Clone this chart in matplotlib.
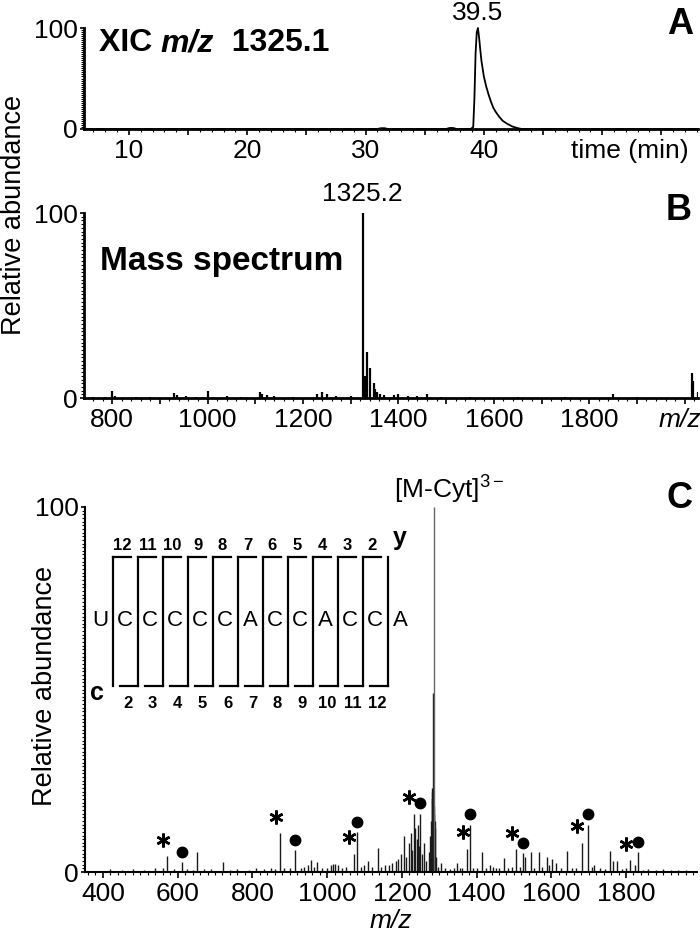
import matplotlib
matplotlib.use('Agg')
import matplotlib.pyplot as plt
from matplotlib.ticker import MultipleLocator, FixedLocator, FuncFormatter

plt.rcParams['font.family'] = ['Liberation Sans', 'DejaVu Sans']
plt.rcParams['mathtext.fontset'] = 'custom'
plt.rcParams['mathtext.rm'] = 'Liberation Sans'
plt.rcParams['mathtext.it'] = 'Liberation Sans:italic'
plt.rcParams['mathtext.bf'] = 'Liberation Sans:bold'

# --- panel A: extracted ion chromatogram of m/z 1325.1
xic_time = [6.2, 31.0, 31.3, 31.6, 31.9, 36.8, 37.1, 37.4, 37.7, 38.9, 39.1, 39.2,
            39.3, 39.4, 39.5, 39.6, 39.7, 39.8, 40.0, 40.2, 40.4, 40.6, 40.8, 41.0,
            41.3, 41.6, 42.0, 42.4, 42.8, 43.2, 58.1]
xic_int = [0, 0, 0.8, 0.8, 0, 0, 1.0, 1.0, 0, 0, 2, 30,
           75, 96, 100, 90, 78, 67, 52, 42, 34, 27, 21, 17,
           12, 8, 5, 2.5, 1, 0, 0]
xic_ticks = [10, 20, 30, 40]

# --- panel B: full mass spectrum
ms_mz = [760, 785, 800, 805, 850, 880, 930, 935, 955, 975, 1000, 1040, 1070, 1110,
         1115, 1125, 1140, 1180, 1230, 1240, 1250, 1270, 1300, 1325.2, 1328, 1330,
         1335, 1341, 1348, 1352, 1356, 1362, 1370, 1390, 1400, 1420, 1440, 1460,
         1490, 1550, 1650, 1750, 1850, 1900, 2015, 2018, 2027]
ms_int = [0.8, 0.6, 4, 1, 0.7, 0.6, 2.5, 1.5, 1, 0.8, 4, 1, 0.8, 3,
          2, 1.5, 1, 0.8, 2, 3, 2, 1, 1, 100, 10, 12,
          25, 16, 8, 5, 3, 2, 1.5, 1.5, 2, 1, 1, 2,
          0.8, 0.6, 0.6, 0.6, 2, 0.6, 13.5, 9, 3]
ms_ticks = [800, 1000, 1200, 1400, 1600, 1800]

# --- panel C: MS/MS spectrum
msms_mz = [420, 450, 480, 510, 540, 560, 572, 590, 612, 625, 640, 652, 670, 690, 722,
           740, 760, 790, 810, 830, 850, 860, 875, 885, 900, 915, 930, 937, 948, 958,
           965, 972, 985, 1000, 1010, 1015, 1020, 1028, 1040, 1050, 1071, 1079, 1090,
           1100, 1109, 1120, 1135, 1145, 1155, 1165, 1175, 1185, 1190, 1197, 1205,
           1212, 1219, 1224, 1228, 1232, 1236, 1240, 1243, 1246, 1249, 1253, 1259,
           1265, 1272, 1276, 1279, 1280, 1281, 1282, 1283, 1284, 1286, 1287, 1288,
           1289, 1292, 1298, 1305, 1315, 1330,
           1340, 1348, 1355, 1362, 1375, 1383, 1390, 1400, 1414, 1425, 1437, 1445,
           1452, 1460, 1473, 1485, 1495, 1506, 1515, 1525, 1530, 1546, 1555, 1567,
           1575, 1589, 1595, 1603, 1613, 1625, 1643, 1655, 1665, 1681, 1699, 1708,
           1715, 1730, 1745, 1756, 1766, 1777, 1790, 1800, 1812, 1823, 1831, 1845,
           1860, 1880, 1900, 1920, 1940, 1960]
msms_int = [0.8, 0.5, 0.7, 0.6, 1, 1.2, 4.4, 0.8, 2.7, 0.8, 0.6, 5.5, 0.7, 0.8, 2.7,
            0.6, 0.8, 0.6, 1, 0.8, 1.2, 0.8, 10.7, 1.2, 1, 6, 1.2, 1.5, 2, 3.2,
            1.5, 2.8, 1, 1.2, 2, 2.2, 2.2, 1.8, 1.2, 1.5, 5, 11, 1.5,
            1.8, 3, 1.5, 6.5, 1.5, 2, 2, 2.5, 3, 3.5, 5, 10,
            4, 8, 10.7, 6, 16, 12, 9, 13, 7, 16, 5, 8,
            3, 5.5, 10, 14, 20, 23, 22, 49, 21, 18, 16, 14,
            12, 4, 1.5, 2.5, 1, 0.8,
            1.2, 2.5, 1, 1, 6.4, 13, 1.2, 1, 5.5, 1, 2, 1.5,
            1.2, 1, 3.7, 1.2, 1.5, 6.3, 1.5, 5.2, 4, 5.5, 1.2, 5.5,
            1.5, 4, 2, 3.6, 2.5, 1.2, 5.8, 1, 1.2, 8, 13, 1.5,
            2, 1, 0.8, 5.8, 3, 3, 0.8, 1, 3.3, 2, 5.5, 0.6,
            0.8, 0.5, 0.8, 0.5, 0.6, 0.5]
base_peak_mz = 1285.5
base_peak_label = '[M-Cyt]$^{3-}$'
star_peaks = [572, 875, 1071, 1232, 1375, 1506, 1681, 1812]
dot_peaks = [612, 915, 1079, 1249, 1383, 1525, 1699, 1831]
msms_ticks = [400, 600, 800, 1000, 1200, 1400, 1600, 1800]

# sequence inset
sequence = list('UCCCCCACCACCA')
y_ions = [12, 11, 10, 9, 8, 7, 6, 5, 4, 3, 2]
c_ions = [2, 3, 4, 5, 6, 7, 8, 9, 10, 11, 12]

W, H = 700, 942


def box(left, top, right, bottom):
    return [left / W, 1 - bottom / H, (right - left) / W, (bottom - top) / H]


def style(ax, lw, ymin_step):
    for s in ['top', 'right']:
        ax.spines[s].set_visible(False)
    for s in ['left', 'bottom']:
        ax.spines[s].set_linewidth(lw)
    ax.yaxis.set_major_locator(FixedLocator([0, 100]))
    ax.yaxis.set_minor_locator(MultipleLocator(ymin_step))
    ax.set_ylim(0, 100)
    ax.tick_params(axis='both', which='major', labelsize=19, width=1.2)
    ax.tick_params(axis='x', which='major', length=4, pad=3.5)
    ax.tick_params(axis='y', which='major', length=3, pad=1.5)
    ax.tick_params(which='minor', length=2, width=0.8)


fig = plt.figure(figsize=(7, 9.42), dpi=100)
ax_a = fig.add_axes(box(84, 28, 698, 129))
ax_b = fig.add_axes(box(84, 213, 698, 398))
ax_c = fig.add_axes(box(85, 507, 697, 872))

# A
style(ax_a, 2, 2)
ax_a.plot(xic_time, xic_int, color='black', lw=1.3, clip_on=False)
ax_a.set_xlim(6.2, 58.1)
ax_a.xaxis.set_major_locator(MultipleLocator(5))
ax_a.xaxis.set_minor_locator(MultipleLocator(1))
ax_a.xaxis.set_major_formatter(FuncFormatter(
    lambda v, p: f'{v:.0f}' if round(v) in xic_ticks else ''))
ax_a.text(39.5, 103, '39.5', ha='center', va='bottom', fontsize=19, clip_on=False)
ax_a.annotate('time (min)', xy=(52.3, 0), xycoords=('data', 'axes fraction'),
              xytext=(0, -7.5), textcoords='offset points',
              ha='center', va='top', fontsize=19)
t1 = ax_a.text(0.024, 0.85, 'XIC ', transform=ax_a.transAxes, fontsize=23,
               fontweight='bold', ha='left', va='center')
t2 = ax_a.annotate('m/z', xy=(1, 0), xycoords=t1, ha='left', va='bottom',
                   fontsize=23, fontweight='bold', style='italic')
ax_a.annotate('  1325.1', xy=(1, 0), xycoords=t2, ha='left', va='bottom',
              fontsize=23, fontweight='bold')

# B
style(ax_b, 2, 2)
ax_b.vlines(ms_mz, 0, ms_int, color='black', lw=1.6)
ax_b.set_xlim(741, 2028)
ax_b.xaxis.set_major_locator(MultipleLocator(100))
ax_b.xaxis.set_minor_locator(MultipleLocator(20))
ax_b.xaxis.set_major_formatter(FuncFormatter(
    lambda v, p: f'{v:.0f}' if round(v) in ms_ticks else ''))
ax_b.text(1325.2, 104, '1325.2', ha='center', va='bottom', fontsize=19)
ax_b.annotate('m/z', xy=(1990, 0), xycoords=('data', 'axes fraction'),
              xytext=(0, -7.5), textcoords='offset points',
              ha='center', va='top', fontsize=19, style='italic')
ax_b.text(0.026, 0.74, 'Mass spectrum', transform=ax_b.transAxes, fontsize=24,
          fontweight='bold', ha='left', va='center')

# C
style(ax_c, 1.5, 1)
ax_c.vlines(msms_mz, 0, msms_int, color='#1a1a1a', lw=1.0)
ax_c.vlines([base_peak_mz], 0, [100], color='#666666', lw=1.0)
ax_c.set_xlim(352, 1990)
ax_c.xaxis.set_major_locator(FixedLocator(msms_ticks))
ax_c.xaxis.set_minor_locator(MultipleLocator(20))
ax_c.set_xlabel('m/z', fontsize=19, style='italic', labelpad=2)
ax_c.annotate(base_peak_label, xy=(base_peak_mz, 100), xytext=(-29, 1),
              textcoords='offset points', ha='left', va='bottom', fontsize=19)
heights = dict(zip(msms_mz, msms_int))
ax_c.plot([m - 12 for m in star_peaks], [heights[m] + 4.5 for m in star_peaks],
          ls='none', marker=(6, 2, 0), ms=10, mew=1.8, color='black')
ax_c.plot(dot_peaks, [heights[m] + 2.8 for m in dot_peaks],
          ls='none', marker='o', ms=7.5, color='black')


# sequence inset, laid out in pixel space of panel C
def fx(px):
    return (px - 85) / 612


def fy(py):
    return (872 - py) / 365


tr = ax_c.transAxes
for i, base in enumerate(sequence):
    ax_c.text(fx(100 + 25 * i), fy(620), base, transform=tr, ha='center',
              va='center', fontsize=16)
bars = [112.5 + 25 * k for k in range(len(sequence) - 1)]
for k, bx in enumerate(bars):
    ax_c.plot([fx(bx), fx(bx)], [fy(557), fy(686)], transform=tr, color='black', lw=1.6)
    if k < len(y_ions):
        ax_c.plot([fx(bx), fx(bx + 18)], [fy(557), fy(557)], transform=tr,
                  color='black', lw=1.6)
        ax_c.text(fx(bx + 10), fy(545), str(y_ions[k]), transform=tr, ha='center',
                  va='center', fontsize=12, fontweight='bold')
    if k > 0:
        ax_c.plot([fx(bx - 18), fx(bx)], [fy(686), fy(686)], transform=tr,
                  color='black', lw=1.6)
        ax_c.text(fx(bx - 10), fy(703), str(c_ions[k - 1]), transform=tr,
                  ha='center', va='center', fontsize=12, fontweight='bold')
ax_c.text(fx(400), fy(538), 'y', transform=tr, ha='center', va='center',
          fontsize=18, fontweight='bold')
ax_c.text(fx(97), fy(693), 'c', transform=tr, ha='center', va='center',
          fontsize=18, fontweight='bold')

# panel letters and shared labels
for letter, (px, py) in zip('ABC', [(680, 24), (679, 210), (679, 498)]):
    fig.text(px / W, 1 - py / H, letter, fontsize=26, fontweight='bold',
             ha='center', va='center')
fig.text(14 / W, 1 - 215 / H, 'Relative abundance', rotation=90, fontsize=19.5,
         ha='center', va='center')
fig.text(45 / W, 1 - 686 / H, 'Relative abundance', rotation=90, fontsize=19.5,
         ha='center', va='center')

fig.savefig('out.png', dpi=100)
